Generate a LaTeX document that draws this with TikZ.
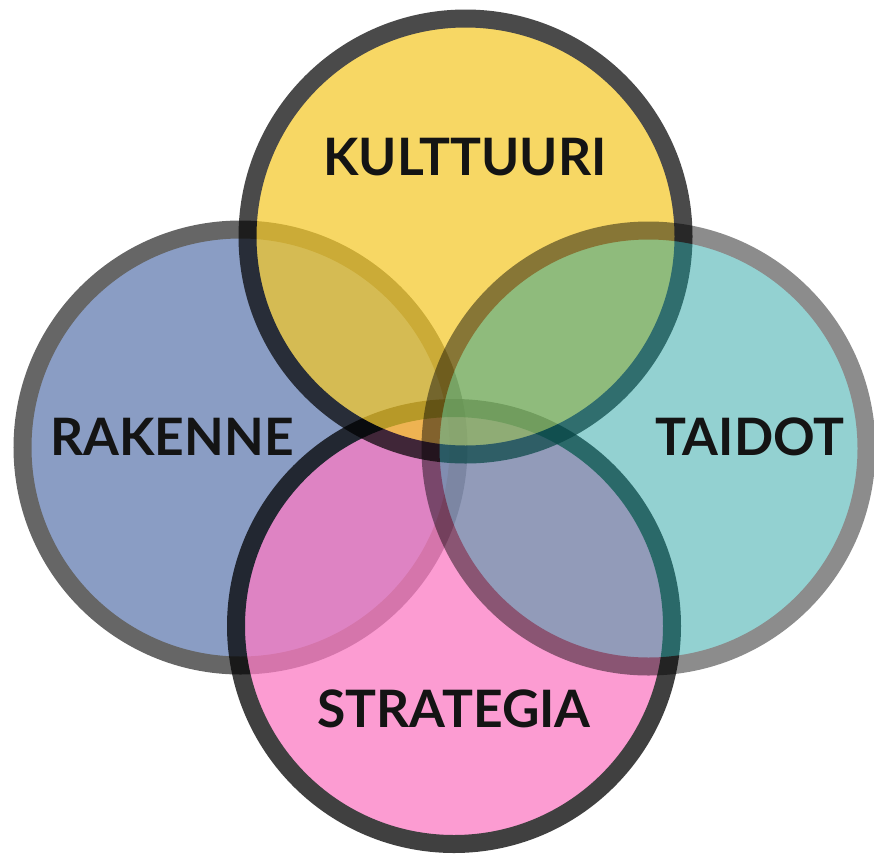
\documentclass[tikz,border=0pt]{standalone}
\usepackage{fontspec}
\setmainfont{Lato}
\begin{document}
\begin{tikzpicture}[x=1pt,y=-1pt,
  ring/.style={line width=18pt, draw=black},
  lbl/.style={anchor=base, inner sep=0pt, text=black!92,
    font=\fontsize{51.6}{60}\selectfont\bfseries}]
\definecolor{cblue}{RGB}{60,93,157}
\definecolor{cpink}{RGB}{251,123,195}
\definecolor{cyellow}{RGB}{245,200,37}
\definecolor{cteal}{RGB}{17,155,155}
\useasboundingbox (0,0) rectangle (874,854);
\fill[white] (0,0) rectangle (874,854);
% circle centres
\coordinate (cR) at (240.5,447.5);
\coordinate (cS) at (454,626);
\coordinate (cK) at (465.5,236.5);
\coordinate (cT) at (648.5,448.5);
% discs, each one a translucent group: structure, strategy, culture, skills
\begin{scope}[transparency group, opacity=0.6]
  \path[ring, fill=cblue] (cR) circle[radius=218];
\end{scope}
\begin{scope}[transparency group, opacity=0.75]
  \path[ring, fill=cpink] (cS) circle[radius=218];
\end{scope}
\begin{scope}[transparency group, opacity=0.71]
  \path[ring, fill=cyellow] (cK) circle[radius=218];
\end{scope}
\begin{scope}[transparency group, opacity=0.45]
  \path[ring, fill=cteal] (cT) circle[radius=218];
\end{scope}
% labels
\node[lbl] (kulttuuri) at (465,175) {KULTTUURI};
\node[lbl] (rakenne) at (172,455) {RAKENNE};
\node[lbl] (taidot) at (750,455) {TAIDOT};
\node[lbl] (strategia) at (454,727) {STRATEGIA};
\end{tikzpicture}
\end{document}
